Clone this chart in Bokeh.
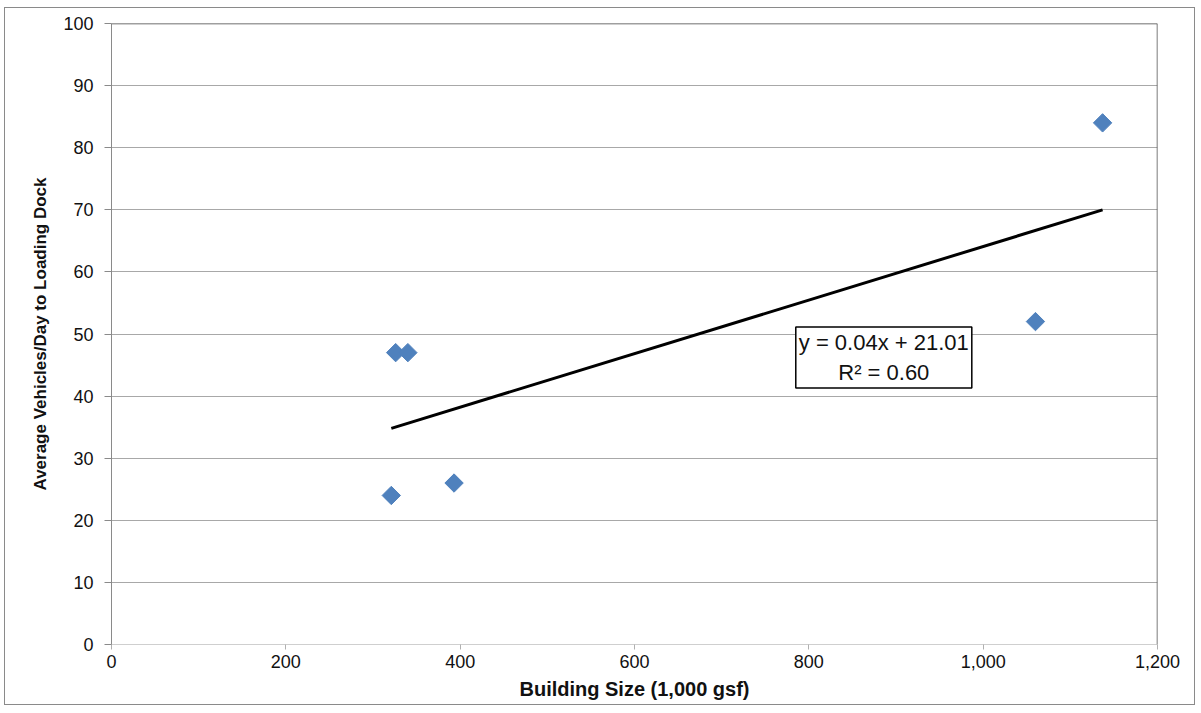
import numpy as np
from bokeh.plotting import figure
from bokeh.models import Label, Span, NumeralTickFormatter, FixedTicker
from bokeh.embed import file_html
from bokeh.resources import INLINE

# data
building_size = [321, 326, 340, 393, 1060, 1137]
vehicles = [24, 47, 47, 26, 52, 84]
x_ticks = [0, 200, 400, 600, 800, 1000, 1200]
y_ticks = [0, 10, 20, 30, 40, 50, 60, 70, 80, 90, 100]
equation_text = "y = 0.04x + 21.01"
r2_text = "R\u00b2 = 0.60"

xs = np.array(building_size, dtype=float)
ys = np.array(vehicles, dtype=float)
slope, intercept = np.polyfit(xs, ys, 1)

p = figure(width=1191, height=698, output_backend="svg", toolbar_location=None,
           x_range=(0, 1200), y_range=(0, 100),
           min_border_left=106, min_border_right=39, min_border_top=15, min_border_bottom=62)
p.styles = {"border": "1px solid #8a8a8a", "margin-left": "4px", "margin-top": "7px"}
p.outline_line_color = None
p.background_fill_color = "white"
p.border_fill_color = "white"

p.xgrid.grid_line_color = None
p.ygrid.grid_line_color = "#a8a8a8"
p.ygrid.grid_line_width = 1
p.ygrid.ticker = FixedTicker(ticks=y_ticks)

p.xaxis.ticker = FixedTicker(ticks=x_ticks)
p.yaxis.ticker = FixedTicker(ticks=y_ticks)
p.xaxis.formatter = NumeralTickFormatter(format="0,0")
for ax in (p.xaxis, p.yaxis):
    ax.major_label_text_font = "Liberation Sans"
    ax.major_label_text_font_size = "18px"
    ax.major_label_text_color = "#111111"
    ax.minor_tick_line_color = None
    ax.major_tick_in = 0
    ax.axis_label_text_font_style = "bold"
    ax.axis_label_text_color = "#111111"

p.xaxis.axis_line_color = "#cfcfcf"
p.xaxis.major_tick_line_color = "#b0b0b0"
p.xaxis.major_tick_out = 5
p.xaxis.major_label_standoff = 5
p.yaxis.axis_line_color = "#8a8a8a"
p.yaxis.major_tick_line_color = "#8a8a8a"
p.yaxis.major_tick_out = 7
p.yaxis.major_label_standoff = 11

p.xaxis.axis_label = "Building Size (1,000 gsf)"
p.xaxis.axis_label_text_font = "Liberation Sans"
p.xaxis.axis_label_text_font_size = "20px"
p.xaxis.axis_label_standoff = 7
p.yaxis.axis_label = "Average Vehicles/Day to Loading Dock"
p.yaxis.axis_label_text_font = "Liberation Sans"
p.yaxis.axis_label_text_font_size = "17px"
p.yaxis.axis_label_standoff = 10

# top and right frame lines
p.add_layout(Span(location=100, dimension="width", line_color="#404040", line_width=1.5))
p.add_layout(Span(location=1200, dimension="height", line_color="#505050", line_width=1.5))

# trend line
tx = np.array([xs.min(), xs.max()])
p.line(tx, slope * tx + intercept, line_color="black", line_width=3)

# points
p.scatter(building_size, vehicles, marker="square", angle=np.pi / 4, size=13,
          fill_color="#4F81BD", line_color="#4F81BD")

lab = Label(x=886, y=46.2, text=equation_text + "\n" + r2_text,
            text_align="center", text_baseline="middle",
            text_font="Liberation Sans", text_font_size="22px", text_color="#111111",
            border_line_color="black", border_line_width=1.5,
            background_fill_color="white", padding=3)
p.add_layout(lab)

open("out.html", "w").write(file_html(p, INLINE))
